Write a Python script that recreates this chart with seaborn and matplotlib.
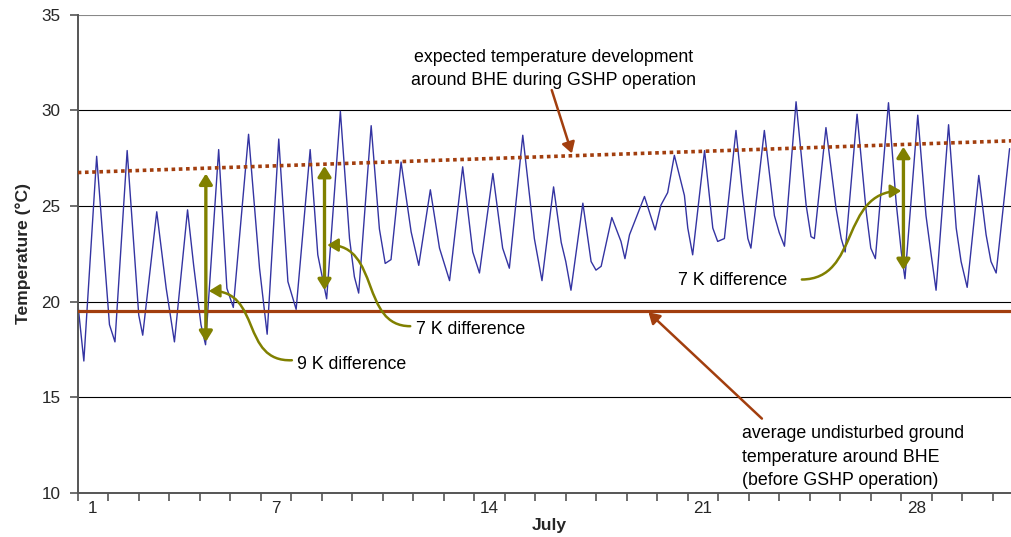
import numpy as np
import pandas as pd
import matplotlib
matplotlib.use("Agg")
import matplotlib.pyplot as plt
import seaborn as sns
from matplotlib.patches import FancyArrowPatch
from matplotlib.path import Path


# ------------------------
# DATA
# ------------------------

# time in days since 1 July 00:00: daily minima, maxima and the knee of each fall
time_day = [
    0.00, 0.20, 0.62, 1.04, 1.22, 1.62, 2.00, 2.13, 2.59, 2.90,
    3.17, 3.60, 3.80, 4.04, 4.19, 4.62, 4.89, 5.10, 5.60, 5.96,
    6.21, 6.59, 6.89, 7.16, 7.62, 7.87, 8.16, 8.61, 8.91, 9.07,
    9.21, 9.62, 9.89, 10.08, 10.27, 10.60, 10.93, 11.18, 11.56, 11.86,
    12.19, 12.62, 12.95, 13.17, 13.61, 13.93, 14.15, 14.59, 14.97, 15.22,
    15.60, 15.85, 16.00, 16.17, 16.56, 16.83, 16.99, 17.16, 17.51, 17.81,
    17.94, 18.09, 18.58, 18.93, 19.12, 19.34, 19.56, 19.89, 20.00, 20.16,
    20.55, 20.82, 20.98, 21.20, 21.58, 21.80, 21.97, 22.07, 22.51, 22.84,
    23.00, 23.17, 23.55, 23.88, 24.04, 24.15, 24.53, 24.86, 25.03, 25.16,
    25.55, 25.85, 26.00, 26.15, 26.58, 26.83, 27.00, 27.12, 27.54, 27.81,
    27.98, 28.14, 28.55, 28.80, 28.96, 29.16, 29.54, 29.78, 29.94, 30.11,
    30.55,
]
temp_c = [
    19.95, 16.9, 27.6, 18.8, 17.9, 27.9, 19.3, 18.25, 24.7, 20.7,
    17.9, 24.8, 21.9, 18.8, 17.75, 27.95, 20.7, 19.7, 28.75, 21.75,
    18.3, 28.5, 21.05, 19.6, 27.95, 22.45, 20.15, 29.95, 23.3, 21.3,
    20.45, 29.2, 23.8, 22.0, 22.2, 27.3, 23.65, 21.9, 25.85, 22.8,
    21.1, 27.05, 22.6, 21.5, 26.7, 22.8, 21.75, 28.7, 23.3, 21.1,
    26.0, 23.1, 22.1, 20.6, 25.15, 22.1, 21.65, 21.85, 24.4, 23.15,
    22.25, 23.5, 25.5, 23.75, 25.05, 25.7, 27.65, 25.55, 23.85, 22.45,
    27.9, 23.85, 23.15, 23.3, 28.95, 25.55, 23.3, 22.8, 28.95, 24.5,
    23.6, 22.9, 30.45, 25.05, 23.4, 23.3, 29.1, 24.9, 23.3, 22.6,
    29.8, 24.7, 22.8, 22.25, 30.4, 25.2, 22.6, 21.2, 29.75, 24.5,
    22.45, 20.6, 29.25, 23.85, 22.1, 20.75, 26.6, 23.5, 22.1, 21.5,
    28.0,
]

ground_temp = 19.5
trend_day = [0, 31]
trend_temp = [26.75, 28.43]

day_labels = [1, 7, 14, 21, 28]
y_ticks = [10, 15, 20, 25, 30, 35]

# vertical "difference" arrows: day, lower end, upper end
diff_day = [4.20, 8.09, 27.07]
diff_low = [17.9, 20.6, 21.65]
diff_high = [26.7, 27.1, 28.1]

brown = "#A23E0E"
olive = "#808000"
blue = "#3434A2"


# ------------------------
# PLOT
# ------------------------

sns.set_theme(style="ticks")
plt.rcParams["font.family"] = ["Liberation Sans", "DejaVu Sans"]

fig = plt.figure(figsize=(10.11, 5.37), dpi=100)
ax = fig.add_axes([0.0769, 0.0819, 0.9232, 0.8907])

df = pd.DataFrame({"day": time_day, "temp": temp_c})
sns.lineplot(data=df, x="day", y="temp", ax=ax, color=blue, linewidth=1.0,
             estimator=None, sort=False, zorder=2)

ax.axhline(ground_temp, color=brown, linewidth=2.3, zorder=3)
ax.plot(trend_day, trend_temp, color=brown, linewidth=2.6,
        linestyle=(0, (1, 1)), dash_capstyle="butt", zorder=3)

for d, lo, hi in zip(diff_day, diff_low, diff_high):
    ax.annotate("", xy=(d, hi), xytext=(d, lo),
                arrowprops=dict(arrowstyle="<|-|>,head_length=0.45,head_width=0.28",
                                color=olive, lw=2.4, mutation_scale=14,
                                shrinkA=0, shrinkB=0),
                zorder=4)


def curved_arrow(points):
    path = Path(points, [Path.MOVETO, Path.CURVE4, Path.CURVE4, Path.CURVE4])
    arrow = FancyArrowPatch(path=path, arrowstyle="-|>,head_length=0.5,head_width=0.3",
                            color=olive, lw=1.8, mutation_scale=13, zorder=4)
    ax.add_patch(arrow)


curved_arrow([(7.02, 16.94), (5.32, 16.84), (6.04, 20.60), (4.30, 20.56)])
curved_arrow([(10.90, 18.72), (9.26, 18.72), (9.91, 22.96), (8.18, 22.96)])
curved_arrow([(23.74, 21.16), (25.65, 21.18), (24.99, 25.73), (27.00, 25.79)])

text_kw = dict(fontsize=12.8, color="black", va="center", zorder=5)
ax.text(7.20, 16.73, "9 K difference", ha="left", **text_kw)
ax.text(11.09, 18.55, "7 K difference", ha="left", **text_kw)
ax.text(19.68, 21.10, "7 K difference", ha="left", **text_kw)
ax.text(15.60, 32.16, "expected temperature development\naround BHE during GSHP operation",
        ha="center", linespacing=1.5, **text_kw)
ax.text(21.77, 11.88, "average undisturbed ground\ntemperature around BHE\n(before GSHP operation)",
        ha="left", linespacing=1.5, **text_kw)

brown_arrow = dict(arrowstyle="-|>,head_length=0.5,head_width=0.3", color=brown,
                   lw=1.8, mutation_scale=13, shrinkA=0, shrinkB=0)
ax.annotate("", xy=(16.20, 27.75), xytext=(15.54, 31.06), arrowprops=brown_arrow, zorder=4)
ax.annotate("", xy=(18.71, 19.45), xytext=(22.43, 13.89), arrowprops=brown_arrow, zorder=4)

# axes, ticks, grid
ax.set_xlim(0, 30.6)
ax.set_ylim(10, 35)

ax.set_xticks(np.arange(0, 31))
ax.set_xticks([d - 0.5 for d in day_labels], minor=True)
ax.set_xticklabels([str(d) for d in day_labels], minor=True)
ax.tick_params(axis="x", which="major", length=6, width=1.2, color="#555555",
               labelbottom=False, direction="out")
ax.tick_params(axis="x", which="minor", length=0, pad=6, labelsize=12.3)

ax.set_yticks(y_ticks)
ax.tick_params(axis="y", length=6, width=1.2, color="#555555", pad=6.5,
               labelsize=12.3, direction="out")

ax.yaxis.grid(True, color="black", linewidth=0.8)
ax.xaxis.grid(False)
ax.set_axisbelow(True)
ax.get_ygridlines()[-1].set_color("#888888")

for side in ["top", "right"]:
    ax.spines[side].set_visible(False)
for side in ["left", "bottom"]:
    ax.spines[side].set_color("#555555")
    ax.spines[side].set_linewidth(1.4)

ax.set_xlabel("July", fontsize=12.6, fontweight="bold")
ax.set_ylabel("Temperature (°C)", fontsize=12.6, fontweight="bold")
ax.xaxis.set_label_coords(0.505, -0.052)
ax.yaxis.set_label_coords(-0.05, 0.5)

fig.savefig("out.png", dpi=100)
